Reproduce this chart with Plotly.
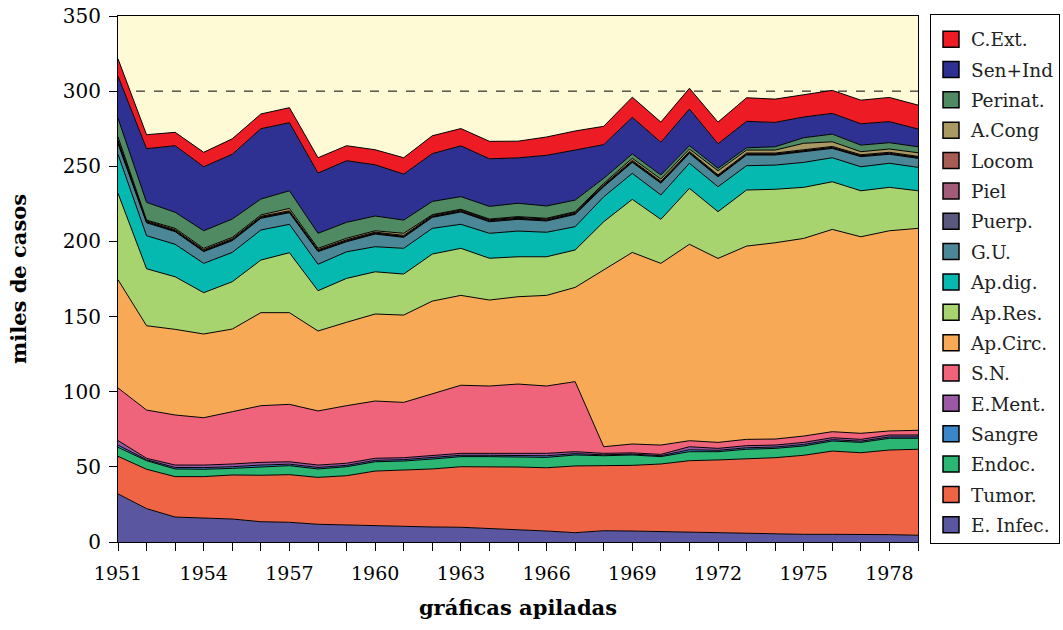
import plotly.graph_objects as go

years = [1951, 1952, 1953, 1954, 1955, 1956, 1957, 1958, 1959, 1960,
         1961, 1962, 1963, 1964, 1965, 1966, 1967, 1968, 1969, 1970,
         1971, 1972, 1973, 1974, 1975, 1976, 1977, 1978, 1979]

label_years = [1951, 1954, 1957, 1960, 1963, 1966, 1969, 1972, 1975, 1978]

e_infec = [32, 22.2, 16.6, 15.8, 15.3, 13.5, 13.1, 11.8, 11.3, 11.1, 10.6, 10, 9.8, 9.1, 8.4,
           7.3, 6.2, 7.5, 7.3, 6.9, 6.7, 6.2, 5.8, 5.3, 5.1, 5.1, 5.1, 4.9, 4.5]
tumor = [25, 26.2, 26.9, 27.7, 29.3, 30.9, 31.7, 31.2, 32.8, 36.1, 37.3, 38.6, 40.3, 41, 41.5,
         42.1, 44.4, 43.3, 43.7, 45, 47.4, 48.4, 49.4, 50.8, 52.6, 55.4, 54.3, 56.3, 57.2]
endoc = [6, 5.7, 5.1, 4.9, 4.4, 5.7, 6, 5.6, 6, 6.2, 6, 6.6, 6.7, 6.7, 6.7,
         6.9, 7.3, 6.6, 6.9, 4.9, 6, 5.5, 6.5, 6.2, 6.2, 6.7, 6.9, 7.8, 7.3]
sangre = [1.5, 0.6, 1.0, 1.1, 1.1, 1.1, 1.0, 1.0, 0.9, 0.9, 0.9, 0.9, 0.9, 0.9, 1.0,
          1.1, 0.9, 0.6, 0.6, 0.6, 1.3, 0.9, 1.0, 0.9, 1.0, 0.9, 0.8, 0.9, 0.9]
e_ment = [3.0, 1.0, 1.6, 1.7, 1.8, 1.8, 1.6, 1.6, 1.4, 1.4, 1.3, 1.3, 1.3, 1.3, 1.4,
          1.6, 1.3, 1.0, 0.8, 0.9, 2.0, 1.3, 1.4, 1.3, 1.4, 1.3, 1.2, 1.3, 1.3]
s_n = [35, 32.1, 33.3, 31.5, 34.8, 37.7, 38.2, 36, 38.3, 38.1, 36.8, 41.1, 45.3, 44.8, 46.1,
       44.8, 46.6, 4.4, 5.9, 6.2, 4, 4, 4.2, 4, 4.2, 4, 4, 2.7, 3.1]
ap_circ = [72, 56.1, 57, 55.7, 55, 61.9, 61, 53.2, 55.5, 57.9, 58.1, 61.8, 59.8, 57.2, 58.1,
           60.3, 62.7, 117.6, 127.5, 120.9, 130.7, 122.4, 128.6, 130.6, 131.5, 134.6, 130.8, 133.2, 134.4]
ap_res = [57.5, 37.9, 35, 27.5, 31.5, 35, 39.9, 26.8, 29.2, 28.1, 27.3, 31.3, 31.3, 27.8, 26.6,
          25.7, 24.9, 32.1, 35.3, 29.3, 37.2, 31.1, 37.3, 35.6, 34, 31.7, 30.6, 28.9, 25]
ap_dig = [26, 22, 21.6, 19.5, 19.5, 20, 18.9, 17.6, 17.7, 16.7, 17.1, 17.1, 16, 16.6, 17.1,
          16.3, 15.5, 16.6, 17.3, 16.2, 16.7, 16.6, 16.2, 16.1, 16.6, 16, 16, 16, 15.6]
g_u = [7, 8.6, 8.4, 7.8, 7.8, 7.8, 7.7, 8.4, 6.7, 8.4, 7.3, 7.3, 8.2, 7.7, 7.8,
       7.5, 8.2, 6.7, 7.3, 7.8, 6.6, 6.6, 7.1, 6.7, 7.1, 6.2, 6.7, 6, 6]
puerp = [0.9, 0.4, 0.4, 0.4, 0.4, 0.4, 0.4, 0.4, 0.4, 0.4, 0.4, 0.4, 0.4, 0.4, 0.4,
         0.4, 0.4, 0.4, 0.4, 0.4, 0.4, 0.4, 0.4, 0.4, 0.4, 0.4, 0.4, 0.4, 0.4]
piel = [0.6, 0.3, 0.3, 0.3, 0.3, 0.3, 0.3, 0.3, 0.3, 0.3, 0.3, 0.3, 0.3, 0.3, 0.3,
        0.3, 0.3, 0.3, 0.3, 0.3, 0.3, 0.3, 0.3, 0.3, 0.3, 0.3, 0.3, 0.3, 0.3]
locom = [1.0, 0.6, 0.6, 0.6, 0.6, 0.6, 0.6, 0.6, 0.6, 0.6, 0.6, 0.6, 0.6, 0.6, 0.6,
         0.6, 0.6, 0.6, 0.6, 0.6, 0.6, 0.6, 0.6, 0.6, 0.6, 0.6, 0.6, 0.6, 0.6]
a_cong = [2.0, 0.5, 0.9, 0.9, 0.9, 0.9, 1.6, 0.9, 1.0, 0.9, 1.4, 0.5, 0.5, 0.5, 0.5,
          0.5, 0.5, 0.9, 1.4, 1.5, 1.6, 2.7, 2.0, 2.0, 4.3, 3.1, 2.0, 2.2, 2.4]
perinat = [12.5, 11.8, 10.7, 11.7, 12.2, 10.6, 11.7, 10, 10.6, 9.8, 8.8, 8.8, 8.4, 8.4, 8.9,
           8.2, 7.7, 3.4, 2.9, 2.7, 2.2, 1.6, 1.5, 2.2, 3.7, 5.1, 4.4, 4.2, 4.0]
sen_ind = [28, 35.7, 44.3, 42.6, 43.1, 46.8, 45.3, 40.1, 41, 34.1, 30.6, 31.8, 33.8, 31.7, 30.2,
           33.7, 33.3, 22.4, 24.4, 21.8, 24.4, 16.4, 17.6, 16.2, 13.8, 13.8, 14.2, 14, 11.8]
c_ext = [11.5, 9.3, 8.9, 9.6, 10.3, 9.8, 10, 10.2, 10, 10, 10.9, 11.9, 11.5, 11.6, 11.1,
         12.2, 12.7, 12.2, 13.4, 13.4, 13.8, 14.4, 15.7, 15.5, 14.8, 15.3, 15.7, 16.1, 15.9]

names = ["E. Infec.", "Tumor.", "Endoc.", "Sangre", "E.Ment.", "S.N.", "Ap.Circ.", "Ap.Res.",
         "Ap.dig.", "G.U.", "Puerp.", "Piel", "Locom", "A.Cong", "Perinat.", "Sen+Ind", "C.Ext."]
series = [e_infec, tumor, endoc, sangre, e_ment, s_n, ap_circ, ap_res,
          ap_dig, g_u, puerp, piel, locom, a_cong, perinat, sen_ind, c_ext]
colors = ["#5A56A0", "#F06446", "#2BB673", "#3A86C8", "#9B59A5", "#EF647B", "#F7A955", "#A8D46F",
          "#05B8B0", "#4B8796", "#5A587E", "#A35B7A", "#A75D53", "#A89A62", "#4F8A63", "#2E3192", "#ED1C24"]

FONT = "DejaVu Serif"

fig = go.Figure()
for name, vals, col in zip(names, series, colors):
    fig.add_trace(go.Scatter(
        x=years, y=vals, name=name, mode="lines", stackgroup="one",
        line=dict(color="black", width=1), fillcolor=col, showlegend=False,
    ))

# legend entries as square swatches, top of stack listed first
for name, col in zip(names[::-1], colors[::-1]):
    fig.add_trace(go.Scatter(
        x=[None], y=[None], name=name, mode="markers", legendgroup="lg_" + name,
        marker=dict(symbol="square", size=20, color=col, line=dict(color="black", width=1.5)),
        hoverinfo="skip",
    ))

fig.add_shape(type="line", xref="x", yref="y", x0=years[0], x1=years[-1], y0=300, y1=300,
              line=dict(color="black", width=1, dash="dash"), layer="below")

fig.update_layout(
    width=1063, height=630,
    margin=dict(l=118, r=145, t=16, b=88, autoexpand=False),
    paper_bgcolor="white",
    plot_bgcolor="#FFFAD6",
    font=dict(family=FONT, size=19, color="black"),
    showlegend=True,
    legend=dict(
        traceorder="grouped", tracegroupgap=3.3,
        x=1.015, y=1.003, xanchor="left", yanchor="top",
        bordercolor="black", borderwidth=1, bgcolor="white",
        font=dict(family=FONT, size=18.5, color="#222"),
        title=dict(text=" ", font=dict(size=4)),
        itemwidth=30, maxheight=620,
    ),
)

fig.update_xaxes(
    range=[1951, 1979],
    tickmode="array", tickvals=label_years, ticktext=[str(v) for v in label_years],
    ticks="outside", ticklen=8, tickcolor="black", tickwidth=1,
    minor=dict(tickmode="linear", tick0=1951, dtick=1, ticks="outside", ticklen=8, tickcolor="black", showgrid=False),
    showline=True, linecolor="black", linewidth=1, mirror=True,
    showgrid=False, zeroline=False,
    ticklabelstandoff=6,
    tickfont=dict(family=FONT, size=19),
    title=dict(text="<b>gráficas apiladas</b>", font=dict(family=FONT, size=21), standoff=17),
)
fig.update_yaxes(
    range=[0, 350], tickmode="linear", tick0=0, dtick=50,
    ticks="outside", ticklen=8, tickcolor="black", tickwidth=1,
    showline=True, linecolor="black", linewidth=1, mirror=True,
    showgrid=False, zeroline=False,
    ticklabelstandoff=4, ticklabeloverflow="allow",
    tickfont=dict(family=FONT, size=20),
    title=dict(text="<b>miles de casos</b>", font=dict(family=FONT, size=21), standoff=30),
)

# remove the default page margin so the figure fills the window exactly
fig.write_html("out.html", config={"displayModeBar": False},
               post_script="document.body.style.margin='0';")
